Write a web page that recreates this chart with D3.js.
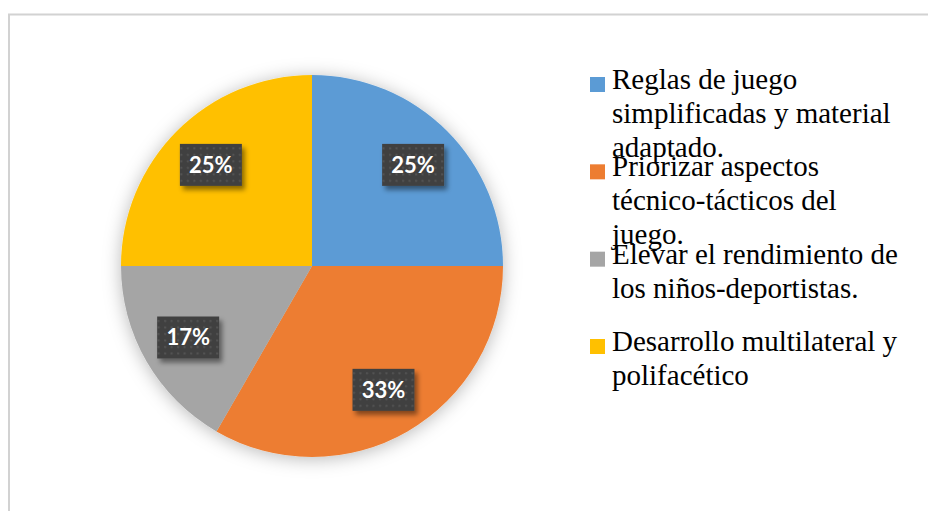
<!DOCTYPE html>
<html>
<head>
<meta charset="utf-8">
<script src="https://cdn.jsdelivr.net/npm/d3@7/dist/d3.min.js"></script>
<style>
  html, body { margin: 0; padding: 0; background: #fff; }
  svg { display: block; }
</style>
</head>
<body>
<script>
// Responses per category (12 in total)
const categories = [
  "Reglas de juego simplificadas y material adaptado.",
  "Priorizar aspectos técnico-tácticos del juego.",
  "Elevar el rendimiento de los niños-deportistas.",
  "Desarrollo multilateral y polifacético"
];
const counts = [3, 4, 2, 3];
const colors = ["#5B9BD5", "#ED7D31", "#A5A5A5", "#FFC000"];

const W = 928, H = 511;
const cx = 312, cy = 266, R = 191;

const svg = d3.select("body").append("svg")
  .attr("width", W).attr("height", H);

const defs = svg.append("defs");

// soft glow around the pie
const glow = defs.append("filter").attr("id", "pieGlow")
  .attr("x", "-20%").attr("y", "-20%").attr("width", "140%").attr("height", "140%");
glow.append("feDropShadow").attr("dx", 0).attr("dy", 2)
  .attr("stdDeviation", 9).attr("flood-color", "#000").attr("flood-opacity", 0.28);

// shadow under data labels
const boxShadow = defs.append("filter").attr("id", "boxShadow")
  .attr("x", "-30%").attr("y", "-30%").attr("width", "160%").attr("height", "160%");
boxShadow.append("feDropShadow").attr("dx", 3).attr("dy", 4)
  .attr("stdDeviation", 2.5).attr("flood-color", "#000").attr("flood-opacity", 0.45);

// dotted texture of the label boxes
const pat = defs.append("pattern").attr("id", "dots")
  .attr("patternUnits", "userSpaceOnUse").attr("width", 6.5).attr("height", 6.5);
pat.append("rect").attr("width", 6.5).attr("height", 6.5).attr("fill", "#404040");
pat.append("rect").attr("x", 2).attr("y", 2).attr("width", 2).attr("height", 2).attr("fill", "#545454");

// chart area frame
svg.append("rect")
  .attr("x", 9).attr("y", 14.5).attr("width", W + 20).attr("height", H + 20)
  .attr("fill", "none").attr("stroke", "#d2d2d2").attr("stroke-width", 2);

const total = d3.sum(counts);
const data = categories.map((c, i) => ({ name: c, value: counts[i], color: colors[i] }));

const pie = d3.pie().sort(null).value(d => d.value);
const arcs = pie(data);

const arc = d3.arc().innerRadius(0).outerRadius(R);
const labelArc = d3.arc().innerRadius(143).outerRadius(143);

const g = svg.append("g").attr("transform", `translate(${cx},${cy})`);

g.append("g").attr("filter", "url(#pieGlow)")
  .selectAll("path").data(arcs).join("path")
  .attr("d", arc)
  .attr("fill", d => d.data.color);

// data labels
const boxW = 62, boxH = 42;
const lab = g.selectAll("g.lab").data(arcs).join("g")
  .attr("class", "lab")
  .attr("transform", d => `translate(${labelArc.centroid(d)})`);

lab.append("rect")
  .attr("x", -boxW / 2).attr("y", -boxH / 2)
  .attr("width", boxW).attr("height", boxH)
  .attr("fill", "url(#dots)")
  .attr("filter", "url(#boxShadow)");

lab.append("text")
  .attr("text-anchor", "middle")
  .attr("dy", "0.36em")
  .attr("fill", "#fff")
  .style("font-family", "Lato, 'Open Sans', sans-serif")
  .style("font-weight", "bold")
  .style("font-size", "22px")
  .text(d => Math.round(d.data.value / total * 100) + "%");

// legend
const legendFont = "29px 'Liberation Serif', 'Times New Roman', serif";
const wrapWidth = 294;
const lineH = 34;
const textX = 612;

const ctx = document.createElement("canvas").getContext("2d");
ctx.font = legendFont;
function wrap(str) {
  const words = str.split(" ");
  const lines = [];
  let cur = "";
  words.forEach(w => {
    const test = cur ? cur + " " + w : w;
    if (cur && ctx.measureText(test).width > wrapWidth) {
      lines.push(cur);
      cur = w;
    } else {
      cur = test;
    }
  });
  if (cur) lines.push(cur);
  return lines;
}

const ly = d3.scalePoint().domain(categories).range([89, 351]);

const leg = svg.append("g").selectAll("g").data(data).join("g")
  .attr("transform", d => `translate(0,${ly(d.name)})`);

leg.append("rect")
  .attr("x", 590).attr("y", -12)
  .attr("width", 15).attr("height", 15)
  .attr("fill", d => d.color);

leg.append("text")
  .attr("x", textX)
  .attr("fill", "#000")
  .style("font-family", "'Liberation Serif', 'Times New Roman', serif")
  .style("font-size", "29px")
  .selectAll("tspan").data(d => wrap(d.name)).join("tspan")
  .attr("x", textX)
  .attr("y", (d, i) => i * lineH)
  .text(d => d);
</script>
</body>
</html>
